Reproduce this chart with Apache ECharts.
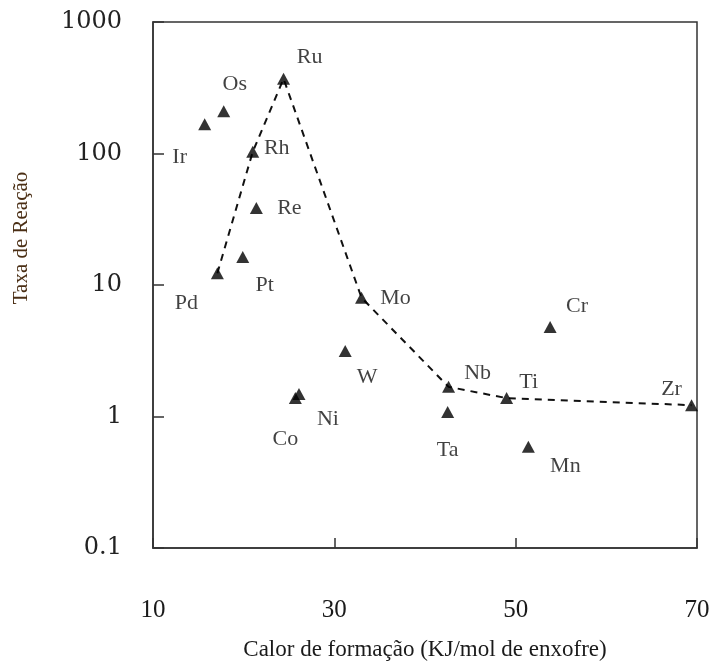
<!DOCTYPE html>
<html><head><meta charset="utf-8">
<script src="https://cdn.jsdelivr.net/npm/echarts@6/dist/echarts.min.js"></script>
<style>html,body{margin:0;padding:0;background:#fff}#c{width:720px;height:669px}</style>
</head><body><div id="c"></div>
<script>
// Data
const elements = ['Ir','Os','Ru','Rh','Re','Pt','Pd','Mo','W','Co','Ni','Nb','Ta','Ti','Cr','Mn','Zr'];
const heatOfFormation = [15.7,17.8,24.4,21.0,21.4,19.9,17.1,33.0,31.2,25.7,26.1,42.6,42.5,49.0,53.8,51.4,69.4];
const reactionRate = [167,210,370,103,38.5,16.3,12.3,8.0,3.15,1.38,1.48,1.68,1.08,1.38,4.8,0.59,1.22];
const trendElements = ['Pd','Rh','Ru','Mo','Nb','Ti','Zr'];
const yTicks = [0.1,1,10,100,1000];
const xTicks = [10,30,50,70];

// Label offsets (style only)
const labelOffset = {
  Ir:[-25,33], Os:[11,-27], Ru:[26,-22], Rh:[24,-4], Re:[33,0], Pt:[22,28],
  Pd:[-31,30], Mo:[34,0], W:[22,26], Ni:[29,25], Co:[-10,41], Nb:[29,-14],
  Ta:[0,38], Ti:[22,-16], Cr:[27,-21], Mn:[37,20], Zr:[-20,-16]
};

const pts = elements.map((e,i)=>({
  value:[heatOfFormation[i], reactionRate[i]],
  name:e,
  label:{show:true, formatter:e, position:'inside', offset:labelOffset[e]}
}));
const trend = trendElements.map(e=>{const i=elements.indexOf(e);return [heatOfFormation[i],reactionRate[i]];});

const serif = '"Liberation Serif","Times New Roman",serif';
const chart = echarts.init(document.getElementById('c'));
chart.setOption({
  animation:false,
  backgroundColor:'#fff',
  grid:{left:153, top:22, right:23, bottom:121, show:true, borderColor:'#333', borderWidth:1.5, backgroundColor:'transparent'},
  xAxis:{
    type:'value', min:xTicks[0], max:xTicks[xTicks.length-1], interval:20,
    name:'Calor de formação (KJ/mol de enxofre)', nameLocation:'middle', nameGap:90,
    nameTextStyle:{fontFamily:serif, fontSize:23, color:'#1a1a1a'},
    axisLine:{show:true, lineStyle:{color:'#333', width:1.5}},
    axisTick:{show:true, inside:true, length:10, lineStyle:{color:'#333', width:1.5}},
    axisLabel:{fontFamily:serif, fontSize:25, color:'#1a1a1a', margin:50, showMinLabel:true, showMaxLabel:true},
    splitLine:{show:false}
  },
  yAxis:{
    type:'log', logBase:10, min:yTicks[0], max:yTicks[yTicks.length-1],
    name:'Taxa de Reação', nameLocation:'middle', nameGap:132, nameRotate:90,
    nameTextStyle:{fontFamily:serif, fontSize:21, color:'#4a2e14', padding:[0,0,0,94], verticalAlign:'middle'},
    axisLine:{show:true, lineStyle:{color:'#333', width:1.5}},
    axisTick:{show:true, inside:true, length:11, lineStyle:{color:'#333', width:1.5}},
    axisLabel:{fontFamily:'"DejaVu Serif",serif', fontSize:24, color:'#222', margin:31,
      formatter:v=>{const r=yTicks.find(t=>Math.abs(t-v)/t<1e-6);return r===undefined?'':String(r);}},
    splitLine:{show:false}, minorTick:{show:false}
  },
  series:[
    {type:'line', data:trend, symbol:'none', lineStyle:{color:'#111', width:2, type:[7,6]}, z:1, silent:true},
    {type:'scatter', data:pts, symbol:'triangle', symbolSize:[13,12],
     itemStyle:{color:'#000'},
     label:{fontFamily:serif, fontSize:22, color:'#111'}, z:2}
  ]
});
</script></body></html>
